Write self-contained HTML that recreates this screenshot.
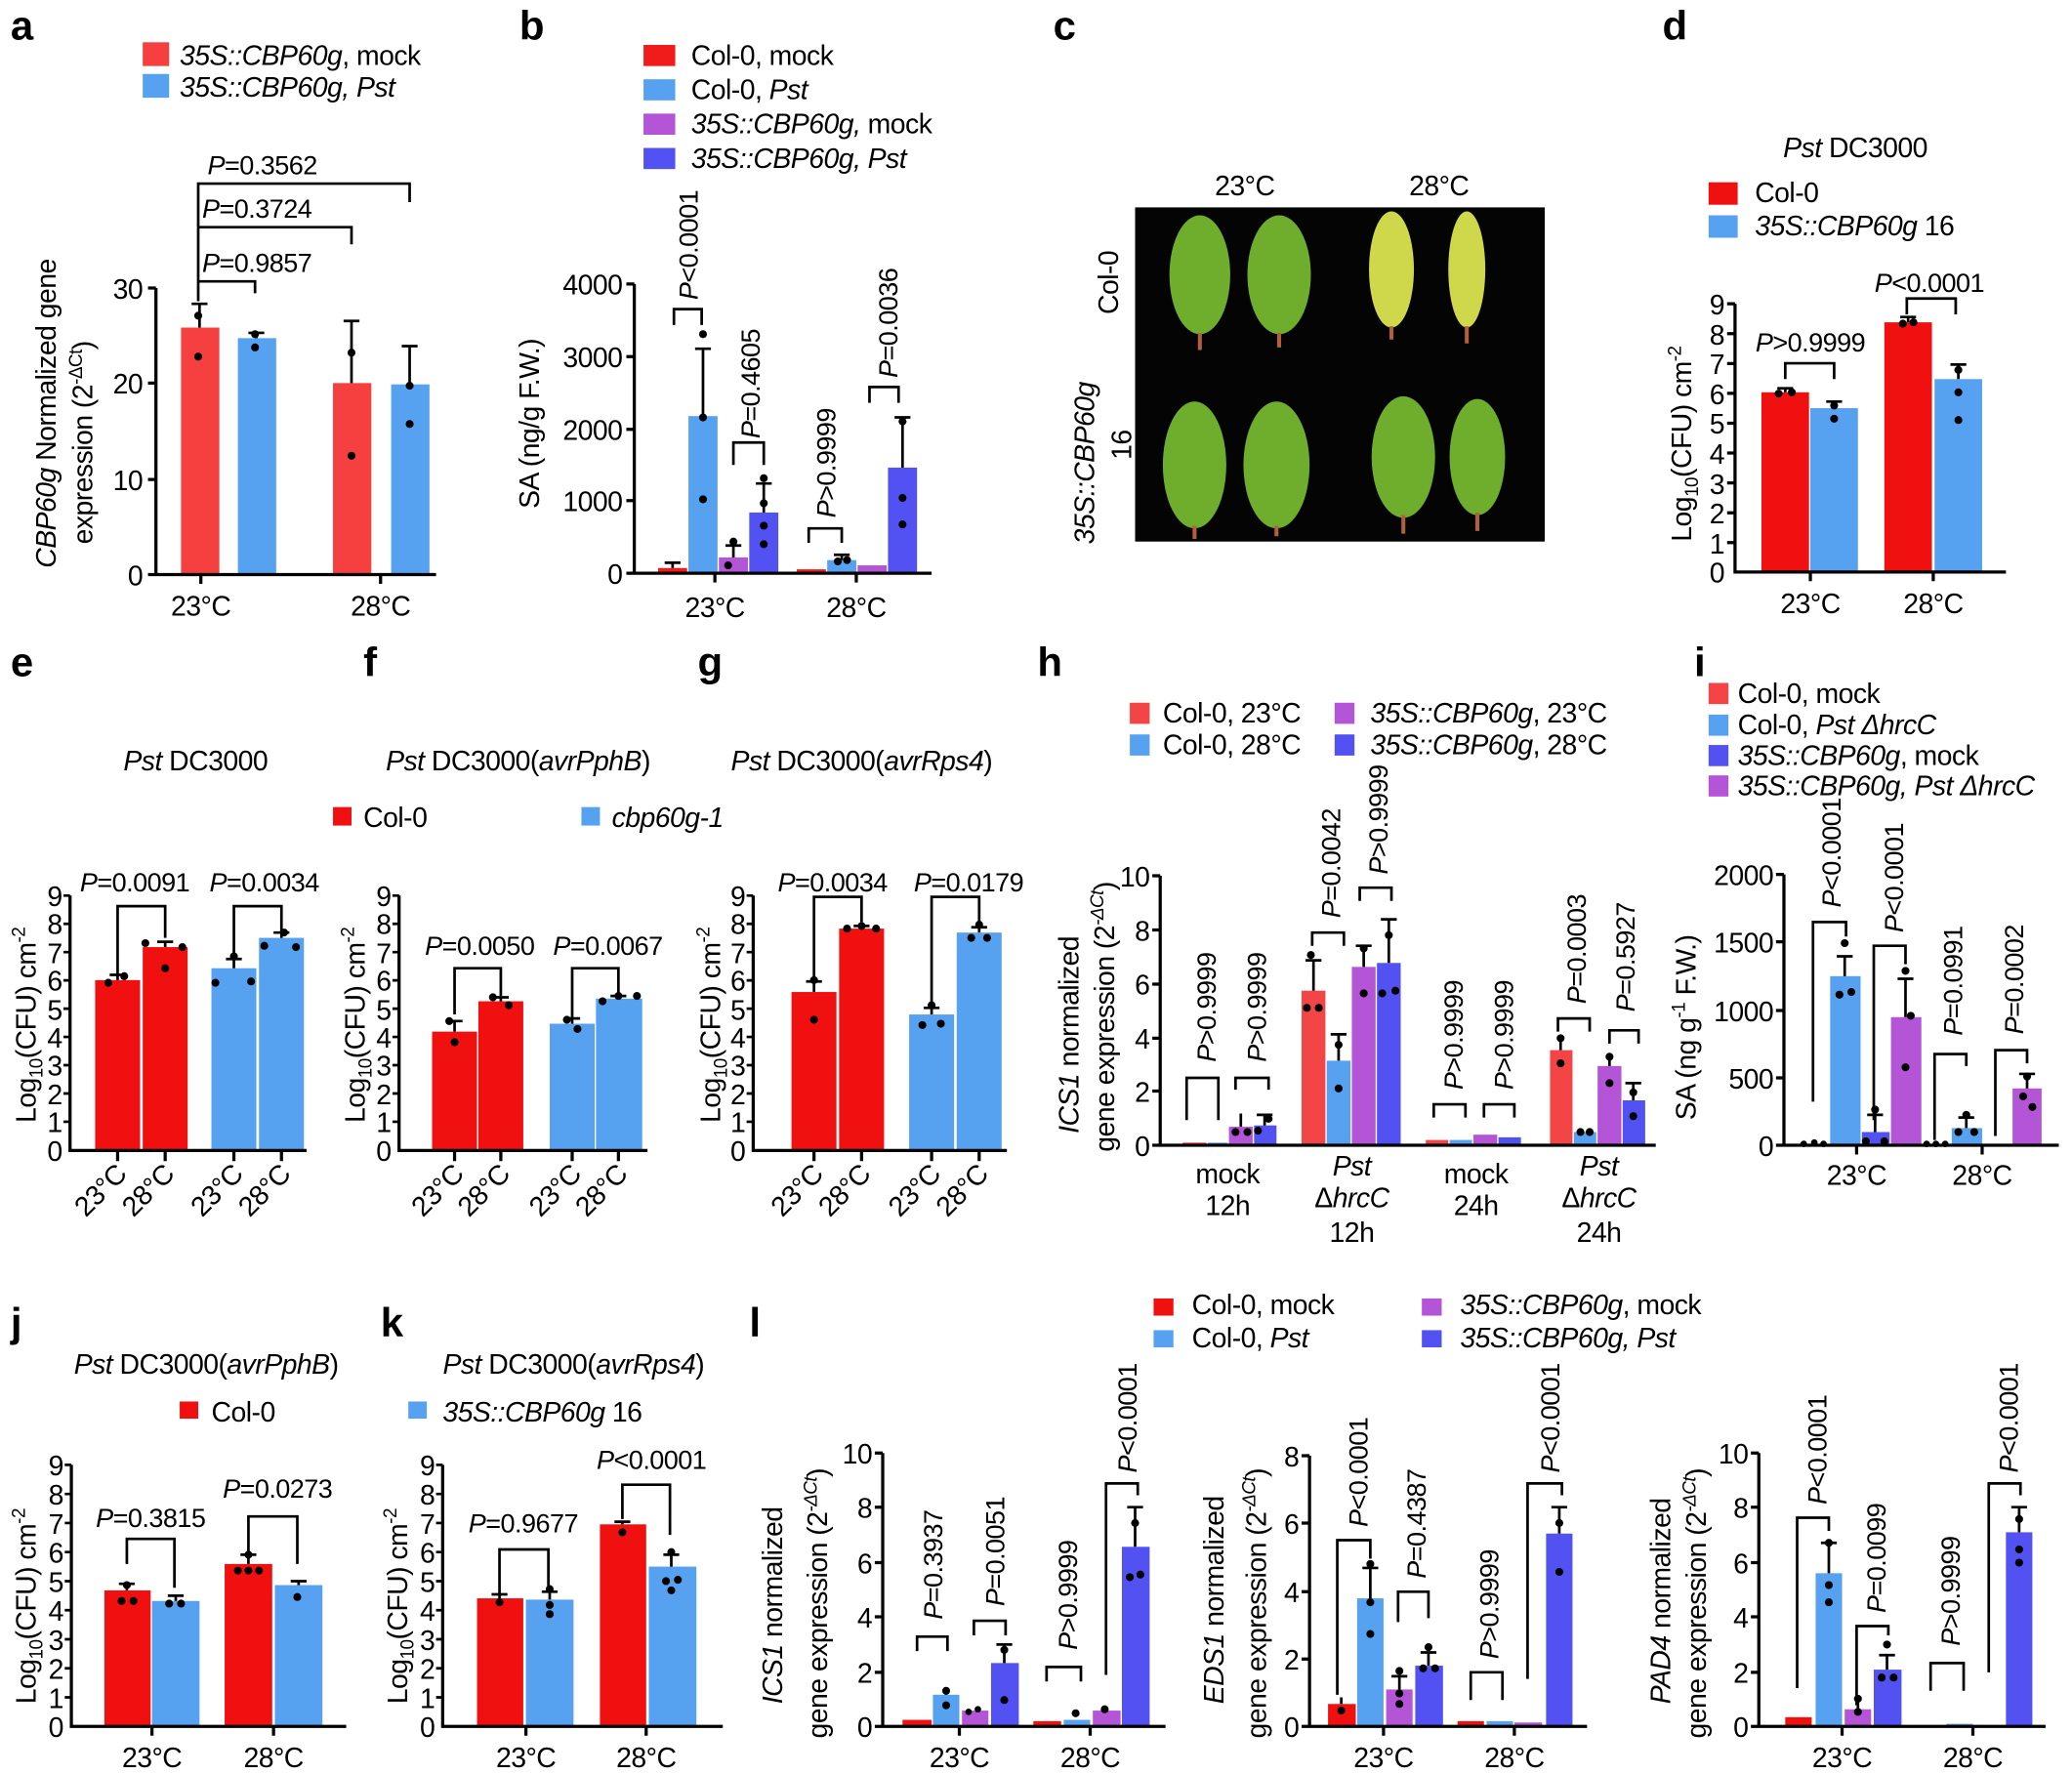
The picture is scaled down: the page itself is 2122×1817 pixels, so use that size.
<!DOCTYPE html>
<html><head><meta charset="utf-8"><style>
html,body{margin:0;padding:0;background:#fff}
svg{display:block}
text{font-family:"Liberation Sans",sans-serif;fill:#000}
.t{font-size:21px;letter-spacing:-0.4px}
.p{font-size:20px;letter-spacing:-0.4px}
.L{font-size:31px;font-weight:bold}
.e{stroke:#000;stroke-width:2;fill:none}
.ax{stroke:#000;stroke-width:2.4;fill:none}
</style></head><body>
<svg width="2122" height="1817" viewBox="0 0 1568 1343" preserveAspectRatio="none" xmlns="http://www.w3.org/2000/svg">
<text class="L" x="8" y="30">a</text><text class="L" x="393" y="30">b</text><text class="L" x="797" y="30">c</text><text class="L" x="1258" y="30">d</text>
<text class="L" x="8" y="512">e</text><text class="L" x="275" y="512">f</text><text class="L" x="528" y="512">g</text><text class="L" x="785" y="512">h</text><text class="L" x="1282" y="512">i</text>
<text class="L" x="8" y="1012">j</text><text class="L" x="288" y="1012">k</text><text class="L" x="567" y="1012">l</text>

<!-- ===== a ===== -->
<rect x="108" y="32" width="20" height="18" fill="#f5403f"/><rect x="108" y="56" width="20" height="18" fill="#56a2f0"/>
<text class="t" x="136" y="49"><tspan font-style="italic">35S::CBP60g</tspan>, mock</text>
<text class="t" x="136" y="73" font-style="italic">35S::CBP60g, Pst</text>
<rect x="137" y="248" width="29" height="187" fill="#f5403f"/><rect x="180" y="256" width="29" height="179" fill="#56a2f0"/>
<rect x="252" y="290" width="29" height="145" fill="#f5403f"/><rect x="296" y="291" width="29" height="144" fill="#56a2f0"/>
<path class="e" d="M151,248V230M145,230H157M194,256V252M188,252H200M266,290V243M260,243H272M310,291V262M304,262H316"/>
<g fill="#000"><circle cx="150" cy="239" r="3"/><circle cx="150" cy="270" r="3"/><circle cx="193" cy="253" r="3"/><circle cx="193" cy="263" r="3"/><circle cx="266" cy="267" r="3"/><circle cx="266" cy="345" r="3"/><circle cx="310" cy="292" r="3"/><circle cx="310" cy="321" r="3"/></g>
<path class="ax" d="M118,218V435H330M112,218H118M112,290H118M112,363H118M112,435H118M152,435V442M288,435V442"/>
<g class="t" text-anchor="end"><text x="108" y="226">30</text><text x="108" y="298">20</text><text x="108" y="371">10</text><text x="108" y="443">0</text></g>
<text class="t" x="152" y="466" text-anchor="middle">23°C</text><text class="t" x="288" y="466" text-anchor="middle">28°C</text>
<path class="e" d="M150,228V139H310V153M150,172H266V185M150,213H193V222"/>
<text class="p" x="157" y="132"><tspan font-style="italic">P</tspan>=0.3562</text>
<text class="p" x="153" y="165"><tspan font-style="italic">P</tspan>=0.3724</text>
<text class="p" x="153" y="206"><tspan font-style="italic">P</tspan>=0.9857</text>
<text class="t" transform="translate(42,430) rotate(-90)"><tspan font-style="italic">CBP60g</tspan> Normalized gene</text>
<text class="t" transform="translate(70,412) rotate(-90)">expression (2<tspan font-size="14" dy="-8">-ΔCt</tspan><tspan dy="8">)</tspan></text>

<!-- ===== b ===== -->
<rect x="487" y="34" width="24" height="16" fill="#f01c1c"/><rect x="487" y="60" width="24" height="16" fill="#56a2f0"/><rect x="487" y="86" width="24" height="16" fill="#b455d8"/><rect x="487" y="112" width="24" height="16" fill="#5252f2"/>
<text class="t" x="523" y="49">Col-0, mock</text><text class="t" x="523" y="75">Col-0, <tspan font-style="italic">Pst</tspan></text>
<text class="t" x="523" y="101"><tspan font-style="italic">35S::CBP60g,</tspan> mock</text><text class="t" x="523" y="127" font-style="italic">35S::CBP60g, Pst</text>
<rect x="498" y="430" width="22" height="4" fill="#f01c1c"/><rect x="521" y="315" width="22" height="119" fill="#56a2f0"/><rect x="544" y="422" width="22" height="12" fill="#b455d8"/><rect x="567" y="388" width="22" height="46" fill="#5252f2"/>
<rect x="603" y="431" width="22" height="3" fill="#f01c1c"/><rect x="626" y="424" width="22" height="10" fill="#56a2f0"/><rect x="649" y="428" width="22" height="6" fill="#b455d8"/><rect x="672" y="354" width="22" height="80" fill="#5252f2"/>
<path class="e" d="M532,315V264M526,264H538M555,422V413M549,413H561M578,388V366M572,366H584M683,354V316M677,316H689M509,430V426M503,426H515M637,424V420M631,420H643"/>
<g fill="#000"><circle cx="532" cy="253" r="3"/><circle cx="532" cy="316" r="3"/><circle cx="532" cy="378" r="3"/><circle cx="555" cy="410" r="3"/><circle cx="551" cy="428" r="3"/><circle cx="578" cy="362" r="3"/><circle cx="578" cy="381" r="3"/><circle cx="578" cy="398" r="3"/><circle cx="578" cy="412" r="3"/><circle cx="683" cy="319" r="3"/><circle cx="683" cy="377" r="3"/><circle cx="683" cy="397" r="3"/><circle cx="634" cy="425" r="3"/><circle cx="641" cy="424" r="3"/></g>
<path class="ax" d="M480,215V434H705M474,215H480M474,270H480M474,325H480M474,379H480M474,434H480M541,434V441M648,434V441"/>
<g class="t" text-anchor="end"><text x="471" y="223">4000</text><text x="471" y="278">3000</text><text x="471" y="333">2000</text><text x="471" y="387">1000</text><text x="471" y="442">0</text></g>
<text class="t" x="541" y="467" text-anchor="middle">23°C</text><text class="t" x="648" y="467" text-anchor="middle">28°C</text>
<path class="e" d="M510,246V234H531V246M555,352V335H578V352M612,411V400H637V411M658,305V293H680V305"/>
<text class="p" transform="translate(528,227) rotate(-90)"><tspan font-style="italic">P</tspan>&lt;0.0001</text>
<text class="p" transform="translate(575,332) rotate(-90)"><tspan font-style="italic">P</tspan>=0.4605</text>
<text class="p" transform="translate(632,392) rotate(-90)"><tspan font-style="italic">P</tspan>&gt;0.9999</text>
<text class="p" transform="translate(679,286) rotate(-90)"><tspan font-style="italic">P</tspan>=0.0036</text>
<text class="t" transform="translate(408,385) rotate(-90)">SA (ng/g F.W.)</text>

<!-- ===== c ===== -->
<text class="t" x="942" y="148" text-anchor="middle">23°C</text><text class="t" x="1089" y="148" text-anchor="middle">28°C</text>
<rect x="859" y="157" width="310" height="253" fill="#040404"/>
<g fill="#6fae2c">
<ellipse cx="908" cy="208" rx="23" ry="45"/><ellipse cx="968" cy="208" rx="24" ry="45"/>
<ellipse cx="904" cy="352" rx="24" ry="48"/><ellipse cx="966" cy="352" rx="25" ry="48"/>
<ellipse cx="1062" cy="346" rx="24" ry="46"/><ellipse cx="1118" cy="346" rx="21" ry="44"/></g>
<g fill="#cfd84a"><ellipse cx="1053" cy="204" rx="17" ry="44"/><ellipse cx="1110" cy="204" rx="14" ry="44"/></g>
<g stroke="#b0603a" stroke-width="3"><path d="M908,252V265M968,252V263M1053,247V257M1110,247V260M904,398V408M966,398V406M1062,390V404M1118,388V402"/></g>
<text class="t" transform="translate(846,238) rotate(-90)">Col-0</text>
<text class="t" transform="translate(828,412) rotate(-90)" font-style="italic">35S::CBP60g</text>
<text class="t" transform="translate(856,348) rotate(-90)">16</text>

<!-- ===== d ===== -->
<text class="t" x="1404" y="119" text-anchor="middle"><tspan font-style="italic">Pst</tspan> DC3000</text>
<rect x="1293" y="138" width="22" height="17" fill="#f01010"/><rect x="1293" y="163" width="22" height="17" fill="#56a2f0"/>
<text class="t" x="1328" y="153">Col-0</text><text class="t" x="1328" y="178"><tspan font-style="italic">35S::CBP60g</tspan> 16</text>
<rect x="1333" y="297" width="36" height="136" fill="#f01010"/><rect x="1370" y="309" width="36" height="124" fill="#56a2f0"/>
<rect x="1426" y="244" width="36" height="189" fill="#f01010"/><rect x="1464" y="287" width="36" height="146" fill="#56a2f0"/>
<path class="e" d="M1351,297V294M1345,294H1357M1388,309V304M1382,304H1394M1444,244V240M1438,240H1450M1482,287V276M1476,276H1488"/>
<g fill="#000"><circle cx="1346" cy="298" r="3"/><circle cx="1356" cy="297" r="3"/><circle cx="1388" cy="307" r="3"/><circle cx="1388" cy="317" r="3"/><circle cx="1440" cy="245" r="3"/><circle cx="1448" cy="244" r="3"/><circle cx="1482" cy="280" r="3"/><circle cx="1482" cy="297" r="3"/><circle cx="1482" cy="318" r="3"/></g>
<path class="ax" d="M1313,230V433H1518M1307,230H1313M1307,252.6H1313M1307,275.2H1313M1307,297.8H1313M1307,320.4H1313M1307,343H1313M1307,365.6H1313M1307,388.2H1313M1307,410.8H1313M1370,433V440M1463,433V440"/>
<g class="t" text-anchor="end"><text x="1305" y="238">9</text><text x="1305" y="261">8</text><text x="1305" y="283">7</text><text x="1305" y="306">6</text><text x="1305" y="328">5</text><text x="1305" y="351">4</text><text x="1305" y="374">3</text><text x="1305" y="396">2</text><text x="1305" y="419">1</text><text x="1305" y="441">0</text></g>
<text class="t" x="1370" y="464" text-anchor="middle">23°C</text><text class="t" x="1463" y="464" text-anchor="middle">28°C</text>
<path class="e" d="M1351,287V275H1388V287M1443,238V226H1480V238"/>
<text class="p" x="1370" y="266" text-anchor="middle"><tspan font-style="italic">P</tspan>&gt;0.9999</text>
<text class="p" x="1460" y="221" text-anchor="middle"><tspan font-style="italic">P</tspan>&lt;0.0001</text>
<text class="t" transform="translate(1280,410) rotate(-90)">Log<tspan font-size="14" dy="5">10</tspan><tspan dy="-5">(CFU) cm</tspan><tspan font-size="14" dy="-8">-2</tspan></text>

<!-- ===== e ===== -->
<text class="t" x="148" y="583" text-anchor="middle"><tspan font-style="italic">Pst</tspan> DC3000</text>
<rect x="72" y="742" width="34" height="129" fill="#f01010"/><rect x="108" y="717" width="34" height="154" fill="#f01010"/><rect x="160" y="733" width="34" height="138" fill="#56a2f0"/><rect x="196" y="710" width="34" height="161" fill="#56a2f0"/>
<path class="e" d="M89,742V738M83,738H95M125,717V713M119,713H131M177,733V726M171,726H183M213,710V706M207,706H219"/>
<g fill="#000"><circle cx="82" cy="744" r="3"/><circle cx="94" cy="739" r="3"/><circle cx="110" cy="714" r="3"/><circle cx="125" cy="733" r="3"/><circle cx="138" cy="717" r="3"/><circle cx="163" cy="744" r="3"/><circle cx="177" cy="724" r="3"/><circle cx="190" cy="743" r="3"/><circle cx="200" cy="716" r="3"/><circle cx="215" cy="706" r="3"/><circle cx="224" cy="717" r="3"/></g>
<path class="ax" d="M53,678V871H232M89,871V879M125,871V879M177,871V879M213,871V879"/>
<path class="e" d="M89,738V686H125V710M177,722V686H213V707"/>
<text class="p" x="102" y="675" text-anchor="middle"><tspan font-style="italic">P</tspan>=0.0091</text>
<text class="p" x="200" y="675" text-anchor="middle"><tspan font-style="italic">P</tspan>=0.0034</text>

<!-- ===== f ===== -->
<text class="t" x="392" y="583" text-anchor="middle"><tspan font-style="italic">Pst</tspan> DC3000(<tspan font-style="italic">avrPphB</tspan>)</text>
<rect x="252" y="611" width="14" height="14" fill="#f01010"/><text class="t" x="275" y="626">Col-0</text>
<rect x="440" y="611" width="14" height="14" fill="#56a2f0"/><text class="t" x="463" y="626" font-style="italic">cbp60g-1</text>
<rect x="327" y="781" width="34" height="90" fill="#f01010"/><rect x="362" y="758" width="34" height="113" fill="#f01010"/><rect x="416" y="775" width="34" height="96" fill="#56a2f0"/><rect x="451" y="756" width="35" height="115" fill="#56a2f0"/>
<path class="e" d="M344,781V773M338,773H350M379,758V755M373,755H385M433,775V771M427,771H439M468,756V754M462,754H474"/>
<g fill="#000"><circle cx="340" cy="773" r="3"/><circle cx="344" cy="789" r="3"/><circle cx="373" cy="755" r="3"/><circle cx="385" cy="761" r="3"/><circle cx="429" cy="772" r="3"/><circle cx="437" cy="779" r="3"/><circle cx="456" cy="758" r="3"/><circle cx="468" cy="754" r="3"/><circle cx="482" cy="754" r="3"/></g>
<path class="ax" d="M302,678V871H490M344,871V879M379,871V879M433,871V879M468,871V879"/>
<path class="e" d="M344,768V733H379V754M433,771V733H468V755"/>
<text class="p" x="363" y="723" text-anchor="middle"><tspan font-style="italic">P</tspan>=0.0050</text>
<text class="p" x="460" y="723" text-anchor="middle"><tspan font-style="italic">P</tspan>=0.0067</text>

<!-- ===== g ===== -->
<text class="t" x="652" y="583" text-anchor="middle"><tspan font-style="italic">Pst</tspan> DC3000(<tspan font-style="italic">avrRps4</tspan>)</text>
<rect x="599" y="751" width="34" height="120" fill="#f01010"/><rect x="635" y="703" width="34" height="168" fill="#f01010"/><rect x="688" y="768" width="34" height="103" fill="#56a2f0"/><rect x="724" y="706" width="34" height="165" fill="#56a2f0"/>
<path class="e" d="M616,751V743M610,743H622M652,703V701M646,701H658M705,768V763M699,763H711M741,706V702M735,702H747"/>
<g fill="#000"><circle cx="616" cy="742" r="3"/><circle cx="616" cy="772" r="3"/><circle cx="641" cy="703" r="3"/><circle cx="652" cy="701" r="3"/><circle cx="663" cy="703" r="3"/><circle cx="705" cy="761" r="3"/><circle cx="698" cy="776" r="3"/><circle cx="712" cy="775" r="3"/><circle cx="741" cy="700" r="3"/><circle cx="735" cy="710" r="3"/><circle cx="747" cy="710" r="3"/></g>
<path class="ax" d="M570,678V871H762M616,871V879M652,871V879M705,871V879M741,871V879"/>
<path class="e" d="M616,740V679H652V698M705,760V679H741V701"/>
<text class="p" x="630" y="675" text-anchor="middle"><tspan font-style="italic">P</tspan>=0.0034</text>
<text class="p" x="733" y="675" text-anchor="middle"><tspan font-style="italic">P</tspan>=0.0179</text>

<g class="t" text-anchor="end">
<text x="47" y="686">9</text><text x="47" y="707">8</text><text x="47" y="729">7</text><text x="47" y="750">6</text><text x="47" y="772">5</text><text x="47" y="793">4</text><text x="47" y="814">3</text><text x="47" y="836">2</text><text x="47" y="857">1</text><text x="47" y="879">0</text>
<text x="296" y="686">9</text><text x="296" y="707">8</text><text x="296" y="729">7</text><text x="296" y="750">6</text><text x="296" y="772">5</text><text x="296" y="793">4</text><text x="296" y="814">3</text><text x="296" y="836">2</text><text x="296" y="857">1</text><text x="296" y="879">0</text>
<text x="564" y="686">9</text><text x="564" y="707">8</text><text x="564" y="729">7</text><text x="564" y="750">6</text><text x="564" y="772">5</text><text x="564" y="793">4</text><text x="564" y="814">3</text><text x="564" y="836">2</text><text x="564" y="857">1</text><text x="564" y="879">0</text>
</g>
<path class="e" d="M48,678H53M48,699.4H53M48,720.8H53M48,742.2H53M48,763.6H53M48,785H53M48,806.4H53M48,827.8H53M48,849.2H53M297,678H302M297,699.4H302M297,720.8H302M297,742.2H302M297,763.6H302M297,785H302M297,806.4H302M297,827.8H302M297,849.2H302M565,678H570M565,699.4H570M565,720.8H570M565,742.2H570M565,763.6H570M565,785H570M565,806.4H570M565,827.8H570M565,849.2H570"/>
<text class="t" transform="translate(27,850) rotate(-90)">Log<tspan font-size="14" dy="5">10</tspan><tspan dy="-5">(CFU) cm</tspan><tspan font-size="14" dy="-8">-2</tspan></text>
<text class="t" transform="translate(276,850) rotate(-90)">Log<tspan font-size="14" dy="5">10</tspan><tspan dy="-5">(CFU) cm</tspan><tspan font-size="14" dy="-8">-2</tspan></text>
<text class="t" transform="translate(545,850) rotate(-90)">Log<tspan font-size="14" dy="5">10</tspan><tspan dy="-5">(CFU) cm</tspan><tspan font-size="14" dy="-8">-2</tspan></text>
<g class="t" text-anchor="end">
<text transform="translate(97,890) rotate(-45)">23°C</text><text transform="translate(133,890) rotate(-45)">28°C</text><text transform="translate(185,890) rotate(-45)">23°C</text><text transform="translate(221,890) rotate(-45)">28°C</text>
<text transform="translate(352,890) rotate(-45)">23°C</text><text transform="translate(387,890) rotate(-45)">28°C</text><text transform="translate(441,890) rotate(-45)">23°C</text><text transform="translate(476,890) rotate(-45)">28°C</text>
<text transform="translate(624,890) rotate(-45)">23°C</text><text transform="translate(660,890) rotate(-45)">28°C</text><text transform="translate(713,890) rotate(-45)">23°C</text><text transform="translate(749,890) rotate(-45)">28°C</text>
</g>

<!-- ===== h ===== -->
<rect x="855" y="532" width="15" height="16" fill="#f34545"/><rect x="855" y="556" width="15" height="16" fill="#56a2f0"/><rect x="1010" y="532" width="15" height="16" fill="#b455d8"/><rect x="1010" y="556" width="15" height="16" fill="#5252f2"/>
<text class="t" x="880" y="547">Col-0, 23°C</text><text class="t" x="880" y="571">Col-0, 28°C</text>
<text class="t" x="1037" y="547"><tspan font-style="italic">35S::CBP60g</tspan>, 23°C</text><text class="t" x="1037" y="571"><tspan font-style="italic">35S::CBP60g</tspan>, 28°C</text>
<g>
<rect x="895" y="865" width="18" height="2" fill="#f34545"/><rect x="914" y="865" width="15" height="2" fill="#56a2f0"/><rect x="930" y="853" width="18" height="14" fill="#b455d8"/><rect x="949" y="852" width="17" height="15" fill="#5252f2"/>
<rect x="985" y="750" width="18" height="117" fill="#f34545"/><rect x="1004" y="803" width="18" height="64" fill="#56a2f0"/><rect x="1023" y="732" width="18" height="135" fill="#b455d8"/><rect x="1042" y="729" width="18" height="138" fill="#5252f2"/>
<rect x="1079" y="863" width="17" height="4" fill="#f34545"/><rect x="1097" y="863" width="17" height="4" fill="#56a2f0"/><rect x="1115" y="859" width="18" height="8" fill="#b455d8"/><rect x="1134" y="861" width="17" height="6" fill="#5252f2"/>
<rect x="1173" y="795" width="17" height="72" fill="#f34545"/><rect x="1191" y="857" width="17" height="10" fill="#56a2f0"/><rect x="1209" y="807" width="18" height="60" fill="#b455d8"/><rect x="1228" y="833" width="17" height="34" fill="#5252f2"/>
</g>
<path class="e" d="M994,750V727M988,727H1000M1013,803V783M1007,783H1019M1032,732V716M1026,716H1038M1051,729V696M1045,696H1057M939,853V843M957,852V844M951,844H963M1181,795V786M1218,807V798M1236,833V820M1230,820H1242"/>
<g fill="#000"><circle cx="992" cy="723" r="3"/><circle cx="989" cy="763" r="3"/><circle cx="998" cy="763" r="3"/><circle cx="1013" cy="791" r="3"/><circle cx="1013" cy="824" r="3"/><circle cx="1032" cy="718" r="3"/><circle cx="1032" cy="752" r="3"/><circle cx="1051" cy="708" r="3"/><circle cx="1046" cy="752" r="3"/><circle cx="1056" cy="750" r="3"/><circle cx="935" cy="857" r="3"/><circle cx="944" cy="857" r="3"/><circle cx="952" cy="856" r="3"/><circle cx="960" cy="847" r="3"/><circle cx="1181" cy="786" r="3"/><circle cx="1181" cy="805" r="3"/><circle cx="1218" cy="800" r="3"/><circle cx="1218" cy="820" r="3"/><circle cx="1236" cy="827" r="3"/><circle cx="1236" cy="845" r="3"/><circle cx="1196" cy="857" r="3"/><circle cx="1203" cy="857" r="3"/></g>
<path class="ax" d="M878,663V867H1253M872,663H878M872,704H878M872,745H878M872,786H878M872,826H878M872,867H878"/>
<g class="t" text-anchor="end"><text x="870" y="671">10</text><text x="870" y="712">8</text><text x="870" y="753">6</text><text x="870" y="794">4</text><text x="870" y="834">2</text><text x="870" y="875">0</text></g>
<g class="t" text-anchor="middle">
<text x="929" y="896">mock</text><text x="929" y="920">12h</text>
<text x="1023" y="890" font-style="italic">Pst</text><text x="1023" y="914">Δ<tspan font-style="italic">hrcC</tspan></text><text x="1023" y="940">12h</text>
<text x="1117" y="896">mock</text><text x="1117" y="920">24h</text>
<text x="1210" y="890" font-style="italic">Pst</text><text x="1210" y="914">Δ<tspan font-style="italic">hrcC</tspan></text><text x="1210" y="940">24h</text>
</g>
<path class="e" d="M898,848V816H922V848M935,825V816H960V825M993,716V706H1017V716M1029,682V672H1053V682M1085,846V836H1109V846M1123,846V836H1146V846M1179,781V771H1203V781M1218,790V780H1240V790"/>
<text class="p" transform="translate(920,804) rotate(-90)"><tspan font-style="italic">P</tspan>&gt;0.9999</text>
<text class="p" transform="translate(958,804) rotate(-90)"><tspan font-style="italic">P</tspan>&gt;0.9999</text>
<text class="p" transform="translate(1014,695) rotate(-90)"><tspan font-style="italic">P</tspan>=0.0042</text>
<text class="p" transform="translate(1050,662) rotate(-90)"><tspan font-style="italic">P</tspan>&gt;0.9999</text>
<text class="p" transform="translate(1107,825) rotate(-90)"><tspan font-style="italic">P</tspan>&gt;0.9999</text>
<text class="p" transform="translate(1145,825) rotate(-90)"><tspan font-style="italic">P</tspan>&gt;0.9999</text>
<text class="p" transform="translate(1200,760) rotate(-90)"><tspan font-style="italic">P</tspan>=0.0003</text>
<text class="p" transform="translate(1237,766) rotate(-90)"><tspan font-style="italic">P</tspan>=0.5927</text>
<text class="t" transform="translate(816,858) rotate(-90)"><tspan font-style="italic">ICS1</tspan> normalized</text>
<text class="t" transform="translate(843,872) rotate(-90)">gene expression (2<tspan font-size="14" dy="-8" font-style="italic">-ΔCt</tspan><tspan dy="8">)</tspan></text>

<!-- ===== i ===== -->
<rect x="1293" y="517" width="15" height="16" fill="#f34545"/><rect x="1293" y="541" width="15" height="16" fill="#56a2f0"/><rect x="1293" y="564" width="15" height="16" fill="#5252f2"/><rect x="1293" y="587" width="15" height="16" fill="#b455d8"/>
<text class="t" x="1315" y="532">Col-0, mock</text><text class="t" x="1315" y="556">Col-0, <tspan font-style="italic">Pst ΔhrcC</tspan></text>
<text class="t" x="1315" y="579"><tspan font-style="italic">35S::CBP60g</tspan>, mock</text><text class="t" x="1315" y="602" font-style="italic">35S::CBP60g, Pst ΔhrcC</text>
<rect x="1362" y="866" width="21" height="1" fill="#f34545"/><rect x="1385" y="739" width="23" height="128" fill="#56a2f0"/><rect x="1409" y="857" width="21" height="10" fill="#5252f2"/><rect x="1431" y="770" width="23" height="97" fill="#b455d8"/>
<rect x="1477" y="854" width="23" height="13" fill="#56a2f0"/><rect x="1501" y="866" width="21" height="1" fill="#5252f2"/><rect x="1523" y="824" width="22" height="43" fill="#b455d8"/>
<path class="e" d="M1396,739V724M1390,724H1402M1419,857V844M1413,844H1425M1442,770V741M1436,741H1448M1488,854V846M1482,846H1494M1534,824V813M1528,813H1540"/>
<g fill="#000"><circle cx="1396" cy="714" r="3"/><circle cx="1392" cy="753" r="3"/><circle cx="1401" cy="751" r="3"/><circle cx="1419" cy="840" r="3"/><circle cx="1412" cy="864" r="3"/><circle cx="1426" cy="864" r="3"/><circle cx="1442" cy="735" r="3"/><circle cx="1446" cy="769" r="3"/><circle cx="1442" cy="808" r="3"/><circle cx="1488" cy="844" r="3"/><circle cx="1482" cy="857" r="3"/><circle cx="1494" cy="857" r="3"/><circle cx="1534" cy="815" r="3"/><circle cx="1531" cy="830" r="3"/><circle cx="1538" cy="838" r="3"/><circle cx="1458" cy="866" r="2.5"/><circle cx="1465" cy="866" r="2.5"/><circle cx="1472" cy="866" r="2.5"/><circle cx="1365" cy="866" r="2.5"/><circle cx="1373" cy="865" r="2.5"/><circle cx="1380" cy="866" r="2.5"/></g>
<path class="ax" d="M1350,662V867H1558M1344,662H1350M1344,713H1350M1344,765H1350M1344,816H1350M1344,867H1350M1405,867V874M1500,867V874"/>
<g class="t" text-anchor="end"><text x="1342" y="670">2000</text><text x="1342" y="721">1500</text><text x="1342" y="773">1000</text><text x="1342" y="824">500</text><text x="1342" y="875">0</text></g>
<text class="t" x="1405" y="897" text-anchor="middle">23°C</text><text class="t" x="1500" y="897" text-anchor="middle">28°C</text>
<path class="e" d="M1372,834V698H1397V709M1418,848V716H1442V730M1464,863V798H1488V807M1510,860V795H1534V805"/>
<text class="p" transform="translate(1393,687) rotate(-90)"><tspan font-style="italic">P</tspan>&lt;0.0001</text>
<text class="p" transform="translate(1440,706) rotate(-90)"><tspan font-style="italic">P</tspan>&lt;0.0001</text>
<text class="p" transform="translate(1485,784) rotate(-90)"><tspan font-style="italic">P</tspan>=0.0991</text>
<text class="p" transform="translate(1531,783) rotate(-90)"><tspan font-style="italic">P</tspan>=0.0002</text>
<text class="t" transform="translate(1283,848) rotate(-90)">SA (ng g<tspan font-size="14" dy="-8">-1</tspan><tspan dy="8"> F.W.)</tspan></text>

<!-- ===== j ===== -->
<text class="t" x="156" y="1040" text-anchor="middle"><tspan font-style="italic">Pst</tspan> DC3000(<tspan font-style="italic">avrPphB</tspan>)</text>
<rect x="136" y="1061" width="14" height="13" fill="#f01010"/><text class="t" x="160" y="1076">Col-0</text>
<rect x="79" y="1204" width="35" height="103" fill="#f01010"/><rect x="115" y="1212" width="36" height="95" fill="#56a2f0"/><rect x="170" y="1184" width="36" height="123" fill="#f01010"/><rect x="208" y="1200" width="36" height="107" fill="#56a2f0"/>
<path class="e" d="M96,1204V1199M90,1199H102M133,1212V1208M127,1208H139M188,1184V1177M182,1177H194M226,1200V1197M220,1197H232"/>
<g fill="#000"><circle cx="92" cy="1212" r="3"/><circle cx="101" cy="1212" r="3"/><circle cx="96" cy="1200" r="3"/><circle cx="128" cy="1214" r="3"/><circle cx="137" cy="1214" r="3"/><circle cx="180" cy="1189" r="3"/><circle cx="188" cy="1189" r="3"/><circle cx="196" cy="1189" r="3"/><circle cx="188" cy="1177" r="3"/><circle cx="225" cy="1209" r="3"/></g>
<path class="ax" d="M54,1109V1307H262M115,1307V1314M207,1307V1314"/>
<path class="e" d="M96,1184V1165H132V1202M188,1176V1148H225V1184"/>
<text class="p" x="114" y="1156" text-anchor="middle"><tspan font-style="italic">P</tspan>=0.3815</text>
<text class="p" x="210" y="1134" text-anchor="middle"><tspan font-style="italic">P</tspan>=0.0273</text>
<text class="t" x="115" y="1338" text-anchor="middle">23°C</text><text class="t" x="207" y="1338" text-anchor="middle">28°C</text>

<!-- ===== k ===== -->
<text class="t" x="434" y="1040" text-anchor="middle"><tspan font-style="italic">Pst</tspan> DC3000(<tspan font-style="italic">avrRps4</tspan>)</text>
<rect x="309" y="1061" width="14" height="13" fill="#56a2f0"/><text class="t" x="335" y="1076"><tspan font-style="italic">35S::CBP60g</tspan> 16</text>
<rect x="361" y="1210" width="35" height="97" fill="#f01010"/><rect x="398" y="1211" width="36" height="96" fill="#56a2f0"/><rect x="454" y="1154" width="35" height="153" fill="#f01010"/><rect x="491" y="1186" width="36" height="121" fill="#56a2f0"/>
<path class="e" d="M378,1210V1207M372,1207H384M416,1211V1205M410,1205H422M471,1154V1152M465,1152H477M508,1186V1177M502,1177H514"/>
<g fill="#000"><circle cx="378" cy="1213" r="3"/><circle cx="416" cy="1203" r="3"/><circle cx="416" cy="1215" r="3"/><circle cx="416" cy="1222" r="3"/><circle cx="471" cy="1160" r="3"/><circle cx="508" cy="1175" r="3"/><circle cx="504" cy="1197" r="3"/><circle cx="513" cy="1196" r="3"/><circle cx="508" cy="1204" r="3"/></g>
<path class="ax" d="M335,1109V1307H547M398,1307V1314M489,1307V1314"/>
<path class="e" d="M378,1207V1173H415V1204M471,1150V1124H507V1162"/>
<text class="p" x="396" y="1160" text-anchor="middle"><tspan font-style="italic">P</tspan>=0.9677</text>
<text class="p" x="493" y="1112" text-anchor="middle"><tspan font-style="italic">P</tspan>&lt;0.0001</text>
<text class="t" x="398" y="1338" text-anchor="middle">23°C</text><text class="t" x="489" y="1338" text-anchor="middle">28°C</text>
<g class="t" text-anchor="end">
<text x="48" y="1117">9</text><text x="48" y="1139">8</text><text x="48" y="1161">7</text><text x="48" y="1183">6</text><text x="48" y="1205">5</text><text x="48" y="1227">4</text><text x="48" y="1249">3</text><text x="48" y="1271">2</text><text x="48" y="1293">1</text><text x="48" y="1315">0</text>
<text x="329" y="1117">9</text><text x="329" y="1139">8</text><text x="329" y="1161">7</text><text x="329" y="1183">6</text><text x="329" y="1205">5</text><text x="329" y="1227">4</text><text x="329" y="1249">3</text><text x="329" y="1271">2</text><text x="329" y="1293">1</text><text x="329" y="1315">0</text>
</g>
<path class="e" d="M49,1109H54M49,1131H54M49,1153H54M49,1175H54M49,1197H54M49,1219H54M49,1241H54M49,1263H54M49,1285H54M330,1109H335M330,1131H335M330,1153H335M330,1175H335M330,1197H335M330,1219H335M330,1241H335M330,1263H335M330,1285H335"/>
<text class="t" transform="translate(27,1290) rotate(-90)">Log<tspan font-size="14" dy="5">10</tspan><tspan dy="-5">(CFU) cm</tspan><tspan font-size="14" dy="-8">-2</tspan></text>
<text class="t" transform="translate(308,1290) rotate(-90)">Log<tspan font-size="14" dy="5">10</tspan><tspan dy="-5">(CFU) cm</tspan><tspan font-size="14" dy="-8">-2</tspan></text>

<!-- ===== l ===== -->
<rect x="873" y="983" width="15" height="13" fill="#f01010"/><rect x="873" y="1007" width="15" height="13" fill="#56a2f0"/><rect x="1076" y="983" width="15" height="13" fill="#b455d8"/><rect x="1076" y="1007" width="15" height="13" fill="#5252f2"/>
<text class="t" x="902" y="995">Col-0, mock</text><text class="t" x="902" y="1020">Col-0, <tspan font-style="italic">Pst</tspan></text>
<text class="t" x="1105" y="995"><tspan font-style="italic">35S::CBP60g</tspan>, mock</text><text class="t" x="1105" y="1020" font-style="italic">35S::CBP60g, Pst</text>
<rect x="683" y="1302" width="22" height="5" fill="#f01010"/><rect x="706" y="1283" width="20" height="24" fill="#56a2f0"/><rect x="728" y="1295" width="20" height="12" fill="#b455d8"/><rect x="750" y="1259" width="21" height="48" fill="#5252f2"/>
<rect x="782" y="1303" width="21" height="4" fill="#f01010"/><rect x="805" y="1302" width="20" height="5" fill="#56a2f0"/><rect x="827" y="1295" width="21" height="12" fill="#b455d8"/><rect x="849" y="1171" width="21" height="136" fill="#5252f2"/>
<path class="e" d="M716,1283V1278M760,1259V1245M754,1245H766M859,1171V1141M853,1141H865"/>
<g fill="#000"><circle cx="716" cy="1280" r="3"/><circle cx="716" cy="1291" r="3"/><circle cx="760" cy="1249" r="3"/><circle cx="760" cy="1287" r="3"/><circle cx="859" cy="1153" r="3"/><circle cx="855" cy="1194" r="3"/><circle cx="863" cy="1192" r="3"/><circle cx="733" cy="1296" r="2.5"/><circle cx="740" cy="1294" r="2.5"/><circle cx="814" cy="1297" r="3"/><circle cx="836" cy="1294" r="3"/></g>
<path class="ax" d="M668,1100V1307H882M662,1100H668M662,1141H668M662,1183H668M662,1224H668M662,1266H668M662,1307H668M726,1307V1314M825,1307V1314"/>
<g class="t" text-anchor="end"><text x="660" y="1108">10</text><text x="660" y="1149">8</text><text x="660" y="1191">6</text><text x="660" y="1232">4</text><text x="660" y="1274">2</text><text x="660" y="1315">0</text></g>
<text class="t" x="726" y="1338" text-anchor="middle">23°C</text><text class="t" x="825" y="1338" text-anchor="middle">28°C</text>
<path class="e" d="M694,1250V1239H717V1250M737,1238V1227H761V1238M792,1273V1262H818V1273M837,1268V1123H861V1132"/>
<text class="p" transform="translate(713,1226) rotate(-90)"><tspan font-style="italic">P</tspan>=0.3937</text>
<text class="p" transform="translate(760,1216) rotate(-90)"><tspan font-style="italic">P</tspan>=0.0051</text>
<text class="p" transform="translate(815,1249) rotate(-90)"><tspan font-style="italic">P</tspan>&gt;0.9999</text>
<text class="p" transform="translate(860,1115) rotate(-90)"><tspan font-style="italic">P</tspan>&lt;0.0001</text>
<text class="t" transform="translate(592,1290) rotate(-90)"><tspan font-style="italic">ICS1</tspan> normalized</text>
<text class="t" transform="translate(626,1316) rotate(-90)">gene expression (2<tspan font-size="14" dy="-8" font-style="italic">-ΔCt</tspan><tspan dy="8">)</tspan></text>
<rect x="1005" y="1290" width="21" height="17" fill="#f01010"/><rect x="1027" y="1210" width="20" height="97" fill="#56a2f0"/><rect x="1049" y="1279" width="20" height="28" fill="#b455d8"/><rect x="1071" y="1261" width="21" height="46" fill="#5252f2"/>
<rect x="1103" y="1303" width="20" height="4" fill="#f01010"/><rect x="1125" y="1303" width="20" height="4" fill="#56a2f0"/><rect x="1146" y="1304" width="21" height="3" fill="#b455d8"/><rect x="1170" y="1161" width="20" height="146" fill="#5252f2"/>
<path class="e" d="M1015,1290V1285M1037,1210V1187M1031,1187H1043M1059,1279V1269M1053,1269H1065M1081,1261V1251M1075,1251H1087M1180,1161V1141M1174,1141H1186"/>
<g fill="#000"><circle cx="1015" cy="1295" r="3"/><circle cx="1037" cy="1184" r="3"/><circle cx="1037" cy="1213" r="3"/><circle cx="1037" cy="1237" r="3"/><circle cx="1059" cy="1265" r="3"/><circle cx="1059" cy="1282" r="3"/><circle cx="1059" cy="1290" r="3"/><circle cx="1081" cy="1247" r="3"/><circle cx="1077" cy="1263" r="3"/><circle cx="1086" cy="1263" r="3"/><circle cx="1180" cy="1153" r="3"/><circle cx="1180" cy="1190" r="3"/></g>
<path class="ax" d="M991,1102V1307H1201M985,1102H991M985,1153H991M985,1205H991M985,1256H991M985,1307H991M1047,1307V1314M1146,1307V1314"/>
<g class="t" text-anchor="end"><text x="983" y="1110">8</text><text x="983" y="1161">6</text><text x="983" y="1213">4</text><text x="983" y="1264">2</text><text x="983" y="1315">0</text></g>
<text class="t" x="1047" y="1338" text-anchor="middle">23°C</text><text class="t" x="1146" y="1338" text-anchor="middle">28°C</text>
<path class="e" d="M1012,1283V1166H1037V1180M1058,1228V1205H1081V1225M1113,1287V1266H1137V1287M1156,1271V1123H1182V1132"/>
<text class="p" transform="translate(1035,1156) rotate(-90)"><tspan font-style="italic">P</tspan>&lt;0.0001</text>
<text class="p" transform="translate(1079,1195) rotate(-90)"><tspan font-style="italic">P</tspan>=0.4387</text>
<text class="p" transform="translate(1134,1256) rotate(-90)"><tspan font-style="italic">P</tspan>&gt;0.9999</text>
<text class="p" transform="translate(1180,1115) rotate(-90)"><tspan font-style="italic">P</tspan>&lt;0.0001</text>
<text class="t" transform="translate(926,1290) rotate(-90)"><tspan font-style="italic">EDS1</tspan> normalized</text>
<text class="t" transform="translate(958,1316) rotate(-90)">gene  expression  (2<tspan font-size="14" dy="-8" font-style="italic">-ΔCt</tspan><tspan dy="8">)</tspan></text>
<rect x="1351" y="1300" width="20" height="7" fill="#f01010"/><rect x="1374" y="1191" width="20" height="116" fill="#56a2f0"/><rect x="1396" y="1294" width="20" height="13" fill="#b455d8"/><rect x="1418" y="1264" width="21" height="43" fill="#5252f2"/>
<rect x="1450" y="1306" width="21" height="1" fill="#f01010"/><rect x="1473" y="1305" width="20" height="2" fill="#56a2f0"/><rect x="1495" y="1306" width="20" height="1" fill="#b455d8"/><rect x="1518" y="1160" width="20" height="147" fill="#5252f2"/>
<path class="e" d="M1384,1191V1168M1378,1168H1390M1406,1294V1288M1428,1264V1253M1422,1253H1434M1528,1160V1141M1522,1141H1534"/>
<g fill="#000"><circle cx="1384" cy="1168" r="3"/><circle cx="1384" cy="1200" r="3"/><circle cx="1384" cy="1213" r="3"/><circle cx="1406" cy="1286" r="3"/><circle cx="1406" cy="1296" r="3"/><circle cx="1428" cy="1245" r="3"/><circle cx="1424" cy="1270" r="3"/><circle cx="1433" cy="1270" r="3"/><circle cx="1528" cy="1150" r="3"/><circle cx="1528" cy="1173" r="3"/><circle cx="1528" cy="1183" r="3"/></g>
<path class="ax" d="M1331,1100V1307H1548M1325,1100H1331M1325,1141H1331M1325,1183H1331M1325,1224H1331M1325,1266H1331M1325,1307H1331M1394,1307V1314M1493,1307V1314"/>
<g class="t" text-anchor="end"><text x="1323" y="1108">10</text><text x="1323" y="1149">8</text><text x="1323" y="1191">6</text><text x="1323" y="1232">4</text><text x="1323" y="1274">2</text><text x="1323" y="1315">0</text></g>
<text class="t" x="1394" y="1338" text-anchor="middle">23°C</text><text class="t" x="1493" y="1338" text-anchor="middle">28°C</text>
<path class="e" d="M1360,1278V1149H1384V1159M1405,1291V1231H1429V1238M1461,1280V1259H1486V1280M1505,1266V1123H1529V1132"/>
<text class="p" transform="translate(1382,1139) rotate(-90)"><tspan font-style="italic">P</tspan>&lt;0.0001</text>
<text class="p" transform="translate(1427,1221) rotate(-90)"><tspan font-style="italic">P</tspan>=0.0099</text>
<text class="p" transform="translate(1483,1246) rotate(-90)"><tspan font-style="italic">P</tspan>&gt;0.9999</text>
<text class="p" transform="translate(1527,1115) rotate(-90)"><tspan font-style="italic">P</tspan>&lt;0.0001</text>
<text class="t" transform="translate(1264,1290) rotate(-90)"><tspan font-style="italic">PAD4</tspan> normalized</text>
<text class="t" transform="translate(1291,1316) rotate(-90)">gene  expression  (2<tspan font-size="14" dy="-8" font-style="italic">-ΔCt</tspan><tspan dy="8">)</tspan></text>
</svg>
</body></html>
